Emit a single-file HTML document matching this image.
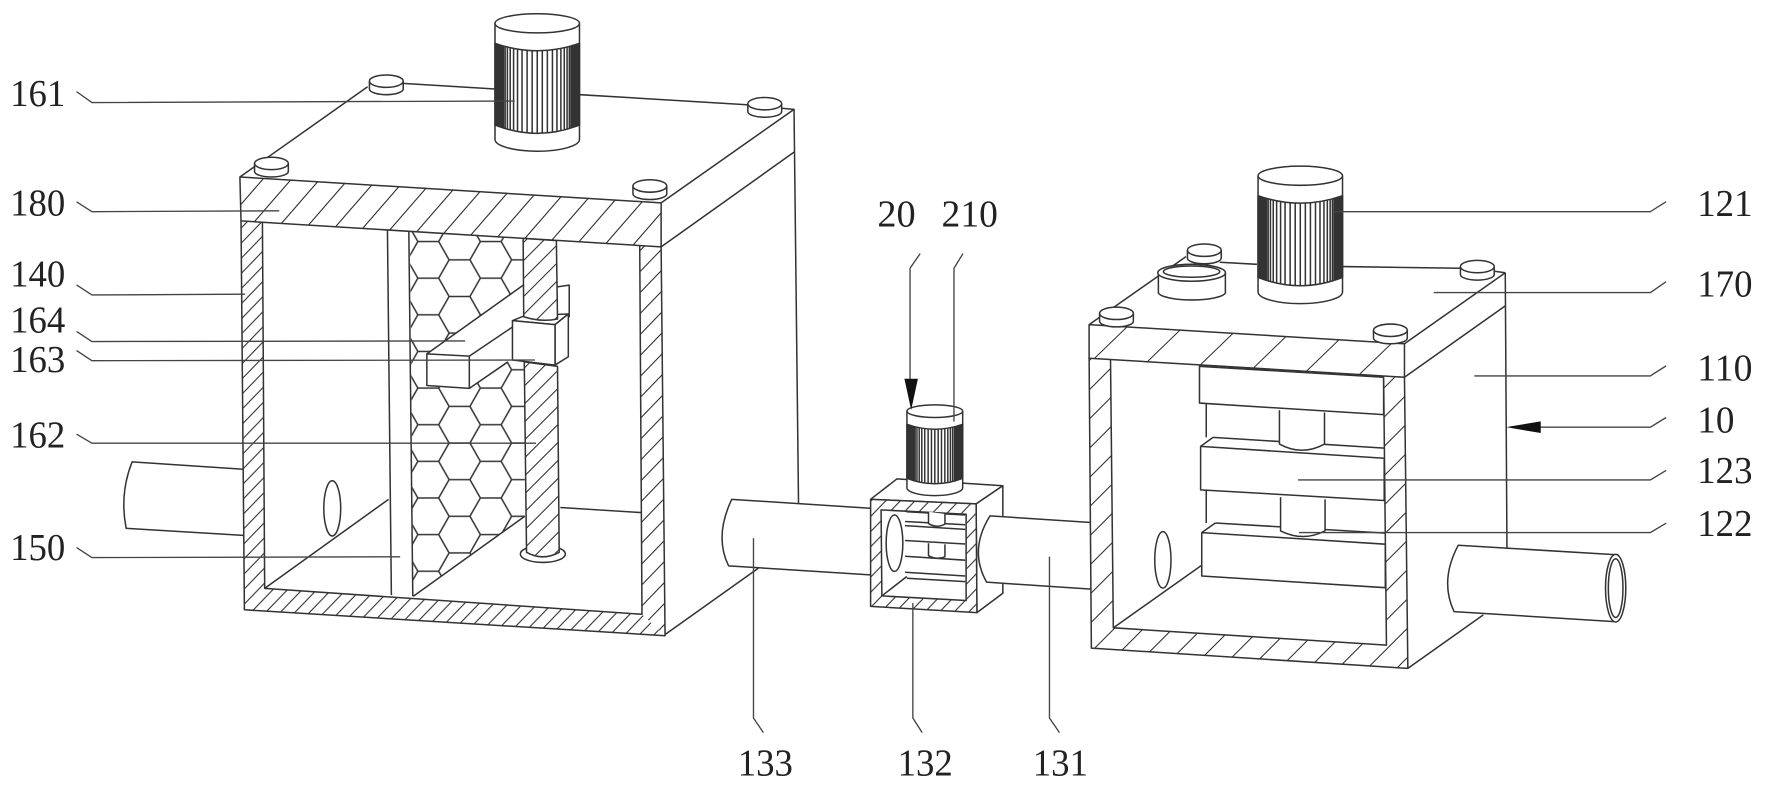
<!DOCTYPE html>
<html><head><meta charset="utf-8"><style>
html,body{margin:0;padding:0;background:#fff;width:1766px;height:789px;overflow:hidden}
svg{display:block}
text{font-family:"Liberation Serif",serif;font-size:34px;fill:#222;stroke:none}
</style></head><body>
<svg width="1766" height="789" viewBox="0 0 1568 700" preserveAspectRatio="none" fill="none" stroke="#333" stroke-width="1.35" stroke-linejoin="round">
<defs>
<pattern id="s25" width="25.3" height="10" patternUnits="userSpaceOnUse" patternTransform="translate(4.75,0) skewX(-41)"><rect width="26" height="10" fill="#fff" stroke="none"/><path d="M12.65 -1V11"/></pattern>
<pattern id="h13" width="13" height="10" patternUnits="userSpaceOnUse" patternTransform="skewX(-44)"><rect width="14" height="10" fill="#fff" stroke="none"/><path d="M6.5 -1V11"/></pattern>
<pattern id="h18" width="18" height="10" patternUnits="userSpaceOnUse" patternTransform="skewX(-44)"><rect width="19" height="10" fill="#fff" stroke="none"/><path d="M9 -1V11"/></pattern>
<pattern id="h16" width="16" height="10" patternUnits="userSpaceOnUse" patternTransform="skewX(-45)"><rect width="17" height="10" fill="#fff" stroke="none"/><path d="M8 -1V11"/></pattern>
<pattern id="s50" width="50" height="10" patternUnits="userSpaceOnUse" patternTransform="translate(26,0) skewX(-46)"><rect width="51" height="10" fill="#fff" stroke="none"/><path d="M25 -1V11"/></pattern>
<pattern id="h26" width="26" height="10" patternUnits="userSpaceOnUse" patternTransform="skewX(-45)"><rect width="27" height="10" fill="#fff" stroke="none"/><path d="M13 -1V11"/></pattern>
<pattern id="hex" width="55.5" height="32.5" patternUnits="userSpaceOnUse" patternTransform="translate(408,230.55)"><path d="M0 0H9.25M46.25 0H55.5M0 32.5H9.25M46.25 32.5H55.5M18.5 16.25H37M9.25 0L18.5 16.25L9.25 32.5M37 16.25L46.25 0M37 16.25L46.25 32.5"/></pattern>
<clipPath id="ribclip"><path d="M-37.5 17.7Q0 31 37.5 17.7V90.2Q0 105 -37.5 90.2Z"/></clipPath>
<g id="bolt"><path d="M-15 0V7A15 5 0 0 0 15 7V0" fill="#fff"/><ellipse rx="15" ry="5.5" fill="#fff"/></g>
<g id="motor">
<path d="M-37.5 0V103A37.5 10.5 0 0 0 37.5 103V0" fill="#fff"/>
<ellipse rx="37.5" ry="8.5" fill="#fff"/>
<path d="M-37.5 17.7Q0 31 37.5 17.7V90.2Q0 105 -37.5 90.2Z" fill="#fff"/>
<path clip-path="url(#ribclip)" d="M0 15V110M4.5 15V110M-4.5 15V110M9 15V110M-9 15V110M13.5 15V110M-13.5 15V110M17.5 15V110M-17.5 15V110M21 15V110M-21 15V110M24 15V110M-24 15V110M26.5 15V110M-26.5 15V110M28.5 15V110M-28.5 15V110M30 15V110M-30 15V110M31 15V110M-31 15V110M32 15V110M-32 15V110M33 15V110M-33 15V110M34 15V110M-34 15V110M35 15V110M-35 15V110M36 15V110M-36 15V110M37 15V110M-37 15V110"/>
</g>
</defs>

<!-- LEFT BOX -->
<path d="M216 416.3L117.3 409.8Q106 438 112 468.7L216 475" fill="#fff"/>
<path d="M705 97L709 447M587 219L705 135M590.4 563L673.4 504"/>
<path d="M213 157L326.4 77M357.7 74L439.6 79M515 84L665 93M694 96L705 97L587 180"/>
<use href="#bolt" x="343" y="72"/><use href="#bolt" x="679" y="92"/>
<use href="#motor" transform="translate(477,20.7)"/>

<path d="M497.5 450.3L570 454.8M235 522L345 443"/>
<path d="M364 205.5L466 212V458L367 529Z" fill="url(#hex)" stroke="none"/>
<path d="M344 204L347.5 528M363 205L366.5 529M367 529L466 458"/>
<ellipse cx="295" cy="451" rx="7.5" ry="24.5"/>
<polygon points="214,196 233,197 235,522 217,541" fill="url(#h13)" stroke="none"/>
<polygon points="217,541 235,522 570,545 590.5,564" fill="url(#h13)" stroke="none"/>
<polygon points="568,218 587,219 590.5,564 570,545" fill="url(#h18)" stroke="none"/>
<path d="M214 196L217 541L590.5 564L587 219M233 197L235 522L570 545L568 218"/>
<polygon points="213,157 587,180 587,219 214,196" fill="url(#s25)"/>
<use href="#bolt" x="241" y="145"/><use href="#bolt" x="577" y="165"/>

<!-- bar, rod, block -->
<path d="M494 254.6L505.4 253V281H494Z" fill="#fff"/>
<ellipse cx="482" cy="491.5" rx="20" ry="7.5" fill="#fff"/>
<polygon points="379,314 464.6,253 464.6,300 451,321 416.7,344.6 416.7,316" fill="#fff" stroke="none"/>
<path d="M379 314L464.6 253M416.7 316L455.8 289.6M416.7 344.6L451 321"/>
<polygon points="379,314 416.7,316 416.7,344.6 379,342" fill="#fff"/>
<path d="M465.5 321L495 325L496.5 490Q482 498 467.5 490Z" fill="url(#h16)"/>
<polygon points="455,284.5 466,280 504.6,278.6 492.8,288" fill="#fff"/>
<path d="M464.5 211.5L494 213.5L495 283Q480 286 465 281Z" fill="url(#h16)"/>
<polygon points="492.8,288 504.6,278.6 504.6,316.5 492.8,323.9" fill="#fff"/>
<polygon points="455,284.5 492.8,288 492.8,323.9 455,319.4" fill="#fff"/>

<!-- MIDDLE PIPE 133 -->
<path d="M772.6 450.9L649.7 443Q634 476 646.9 502L772.6 510" fill="#fff"/>

<!-- SMALL BOX 132 -->
<polygon points="773,443 796.3,424.9 890.4,431 866.7,447" fill="#fff"/>
<polygon points="866.7,447 890.4,431 890.4,526.3 867.4,543.5" fill="#fff"/>
<polygon points="773,443 866.7,447 867.4,543.5 773,538" fill="url(#h13)"/>
<polygon points="782.3,452.4 857.8,456.2 857.8,532.8 783,528.7" fill="#fff"/>
<path d="M783 528.7L805.1 511.5M804.8 454L857 456.9M803.6 462.7L857 465.6M803.6 466.3L857 469.7M803.6 479.5L857 482.6M803.6 493.5L857 497M803.6 507.7L857 511M805.1 513L857 516"/>
<path d="M824.4 454V464.5Q831.7 469 839 465V456M824.4 482V493Q831.7 497 839 494V483" fill="#fff"/>
<ellipse cx="794.2" cy="481.9" rx="7.4" ry="25" fill="#fff"/>
<use href="#motor" transform="translate(830,364.8) scale(.66)" stroke-width="2"/>

<!-- PIPE 131 -->
<path d="M968.8 463.6L879 457.7Q860 488 876 516.5L968.8 522.7" fill="#fff"/>

<!-- RIGHT BOX -->
<path d="M1336.5 242L1338 486M1247 334.7L1336.5 271.4M1250 593L1317 545.5M1247 305L1336.5 242"/>
<path d="M967 288L1053 227.7M1083 232.7L1116 234.5M1192.5 236.5L1297 238M1326 240.5L1336.5 242"/>
<use href="#bolt" x="1069.3" y="222"/><use href="#bolt" x="1311.7" y="236.5"/>
<path d="M1028.5 242V260A30 7 0 0 0 1088 260V242" fill="#fff"/>
<ellipse cx="1058" cy="242" rx="30" ry="7.5" fill="#fff"/>
<ellipse cx="1058" cy="241" rx="25" ry="5"/>
<use href="#motor" transform="translate(1154.5,155.9)"/>

<path d="M988.5 557L1066.5 501.8"/>
<ellipse cx="1032.5" cy="496.7" rx="7.2" ry="25"/>
<path d="M1071 358V388M1071 434.6V464M1077 388L1229 397.6M1079 464L1230 473"/>
<polygon points="1065,325 1228.5,334.7 1228.5,367.9 1065,357.6" fill="#fff"/>
<path d="M1066 396L1077 388M1067 472.5L1079 464"/>
<path d="M1136 364V394Q1156 405 1176 394V366" fill="#fff"/>
<polygon points="1066,396 1229,406.6 1229,444 1066,434.6" fill="#fff"/>
<path d="M1137 441V471Q1157 481 1176.5 471V443" fill="#fff"/>
<polygon points="1067,472.5 1230,482.8 1230,521.4 1067,511" fill="#fff"/>
<polygon points="967,317 986,319 988.5,557 969,575" fill="url(#h26)" stroke="none"/>
<polygon points="969,575 988.5,557 1231,572.4 1250,593" fill="url(#h26)" stroke="none"/>
<polygon points="1228.5,334.7 1247,334.7 1250,593 1231,572.4" fill="url(#h26)" stroke="none"/>
<path d="M967 317L969 575L1250 593L1247 334.7M986 319L988.5 557L1231 572.4L1228.5 334.7"/>
<polygon points="967,288 1247,305 1247,334.7 967,317.8" fill="url(#s50)"/>
<use href="#bolt" x="991.3" y="278"/><use href="#bolt" x="1234.5" y="293"/>

<!-- RIGHT PIPE -->
<path d="M1437 492.3L1294.8 483.7Q1278 515 1291 542.6L1433.4 551.5" fill="#fff"/>
<ellipse cx="1434.5" cy="521.8" rx="9" ry="30" fill="#fff"/>
<ellipse cx="1434.5" cy="521.8" rx="6.5" ry="26"/>

<!-- LEADERS -->
<g stroke="#444" stroke-width="1.2">
<path d="M68 81.3L81.6 91L457 89.6"/>
<path d="M68 179L81.6 187.8L248 187"/>
<path d="M68 252.8L81.6 261.7L217.6 261"/>
<path d="M68 294L81.6 303L413 302.5"/>
<path d="M68 311L81.6 320L475 319.4"/>
<path d="M68 385.2L81.6 393.2L476 393.2"/>
<path d="M68 485.8L81.6 494.7L355.3 494"/>
<path d="M669 477.4V637L677.8 650"/>
<path d="M810.5 535V637L818.8 650"/>
<path d="M931.8 493.8V637L940.7 650"/>
<path d="M817 225L808 238V340"/>
<path d="M855 225L847 238V374"/>
<path d="M1185 187.8H1465.3L1479.3 178.9"/>
<path d="M1273 259.6H1465.3L1479.3 249.9"/>
<path d="M1309 333.5H1465.3L1479.3 324.6"/>
<path d="M1360 379H1465.3L1479.3 370.4"/>
<path d="M1152.5 425.8H1465.3L1479.3 417.4"/>
<path d="M1153.3 472.5H1465.3L1479.3 464.2"/>
</g>
<polygon points="803,336 815,336 809,363.7" fill="#111" stroke="none"/>
<polygon points="1337.3,379 1368,373.8 1368,384.2" fill="#111" stroke="none"/>

<!-- LABELS -->
<text x="9" y="94" textLength="49" lengthAdjust="spacingAndGlyphs">161</text>
<text x="9" y="191" textLength="49" lengthAdjust="spacingAndGlyphs">180</text>
<text x="9" y="254" textLength="49" lengthAdjust="spacingAndGlyphs">140</text>
<text x="9" y="295" textLength="49" lengthAdjust="spacingAndGlyphs">164</text>
<text x="9" y="330" textLength="49" lengthAdjust="spacingAndGlyphs">163</text>
<text x="9" y="397" textLength="49" lengthAdjust="spacingAndGlyphs">162</text>
<text x="9" y="497" textLength="49" lengthAdjust="spacingAndGlyphs">150</text>
<text x="779" y="201" textLength="34" lengthAdjust="spacingAndGlyphs">20</text>
<text x="836" y="201" textLength="50" lengthAdjust="spacingAndGlyphs">210</text>
<text x="655" y="688" textLength="49" lengthAdjust="spacingAndGlyphs">133</text>
<text x="797" y="688" textLength="49" lengthAdjust="spacingAndGlyphs">132</text>
<text x="917" y="688" textLength="49" lengthAdjust="spacingAndGlyphs">131</text>
<text x="1507" y="191.6" textLength="49" lengthAdjust="spacingAndGlyphs">121</text>
<text x="1507" y="263.2" textLength="49" lengthAdjust="spacingAndGlyphs">170</text>
<text x="1507" y="337.7" textLength="49" lengthAdjust="spacingAndGlyphs">110</text>
<text x="1507" y="383.8" textLength="33" lengthAdjust="spacingAndGlyphs">10</text>
<text x="1507" y="428.7" textLength="49" lengthAdjust="spacingAndGlyphs">123</text>
<text x="1507" y="475.4" textLength="49" lengthAdjust="spacingAndGlyphs">122</text>
</svg>
</body></html>
